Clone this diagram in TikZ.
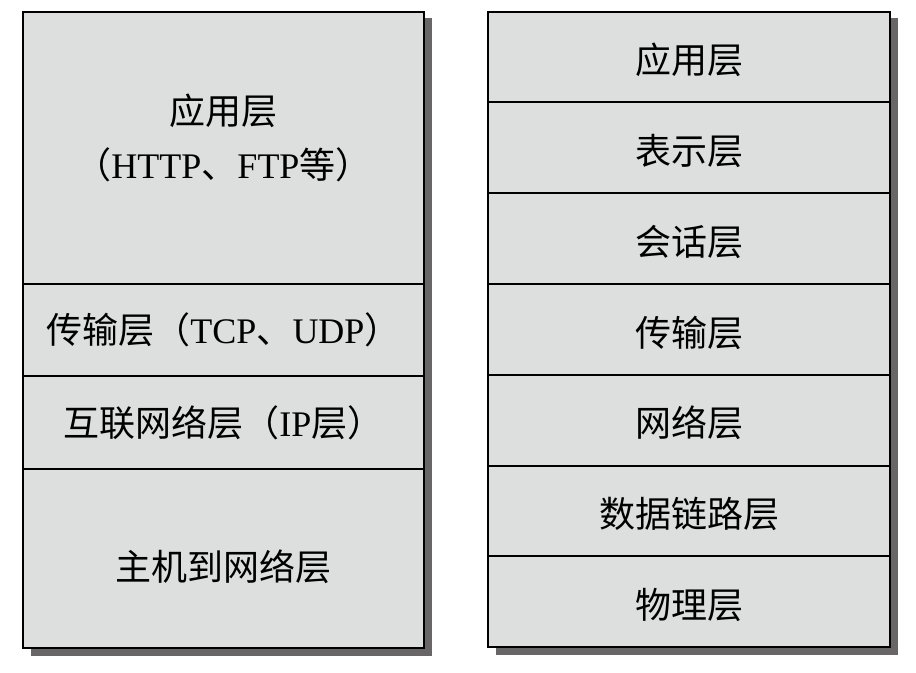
\documentclass[tikz,border=0pt]{standalone}
\usepackage{fontspec}
\setmainfont{Liberation Serif}
\newfontfamily\cjk{Noto Sans CJK SC}
\usetikzlibrary{positioning,backgrounds}
\definecolor{layerfill}{RGB}{220,223,222}
\definecolor{shadowgray}{RGB}{104,102,102}
\newcommand{\zh}[1]{{\cjk #1}}
\begin{document}
\begin{tikzpicture}[x=0.75pt,y=-0.75pt,
    layer/.style={draw=black,line width=1.6pt,fill=layerfill,minimum width=301pt,
        outer sep=0pt,inner sep=0pt,align=center,
        font=\fontsize{27}{40.5}\selectfont},
    osi/.style={layer,minimum height=68.1pt,text height=28pt,text depth=3pt}]
    \useasboundingbox (0,0) rectangle (916,672);
    %left: tcp/ip model
    \node[layer,minimum height=204pt,text depth=17pt] (app) at (223.5,148) {\zh{应用层}\\\zh{（}HTTP\zh{、}FTP\zh{等）}};
    \node[layer,minimum height=69pt,below=0pt of app] (tcp) {\zh{传输层（}TCP\zh{、}UDP\zh{）}};
    \node[layer,minimum height=69.75pt,below=0pt of tcp] (ip) {\zh{互联网络层（}IP\zh{层）}};
    \node[layer,minimum height=134.25pt,text height=36pt,text depth=3pt,below=0pt of ip] (host) {\zh{主机到网络层}};
    %right: osi model
    \node[osi] (osiapp) at (689,57) {\zh{应用层}};
    \node[osi,below=0pt of osiapp] (pres) {\zh{表示层}};
    \node[osi,below=0pt of pres] (sess) {\zh{会话层}};
    \node[osi,below=0pt of sess] (trans) {\zh{传输层}};
    \node[osi,below=0pt of trans] (net) {\zh{网络层}};
    \node[osi,below=0pt of net] (link) {\zh{数据链路层}};
    \node[osi,below=0pt of link] (phys) {\zh{物理层}};
    %shadows
    \begin{scope}[on background layer]
        \fill[shadowgray] ([shift={(8,6)}]app.north west) rectangle ([shift={(8,8)}]host.south east);
        \fill[shadowgray] ([shift={(8,6)}]osiapp.north west) rectangle ([shift={(8,8)}]phys.south east);
    \end{scope}
\end{tikzpicture}
\end{document}
